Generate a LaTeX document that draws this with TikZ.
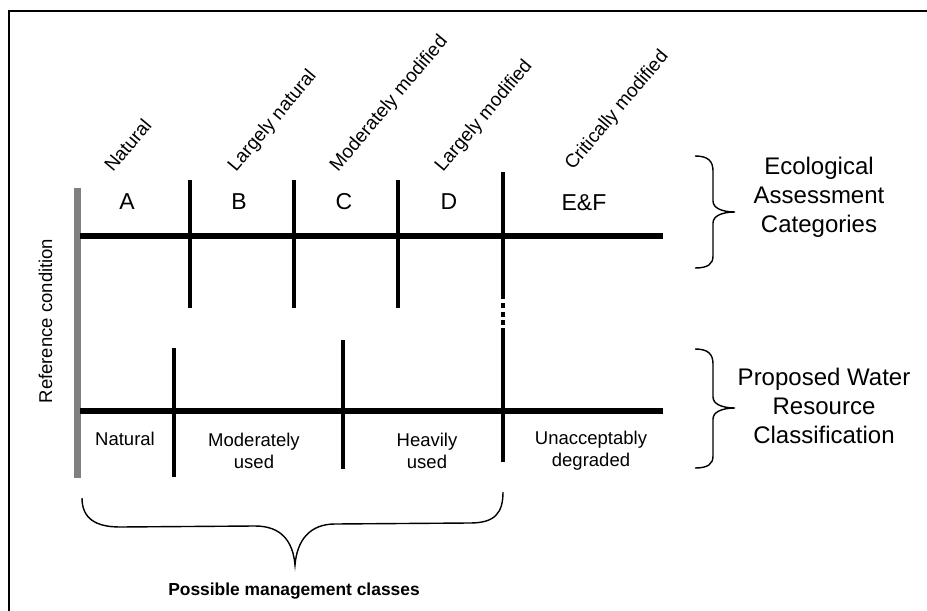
\documentclass[tikz,border=0pt]{standalone}
\usepackage{fontspec}
\setmainfont{Liberation Sans}
\begin{document}
\begin{tikzpicture}[x=1bp,y=-1bp,
  thickbar/.style={line width=6.5bp},
  divider/.style={line width=4bp},
  bracestroke/.style={line width=1.4bp},
  cat/.style={inner sep=0pt, font=\fontsize{23bp}{25bp}\selectfont},
  rotlab/.style={inner sep=0pt, rotate=50, anchor=base west, font=\fontsize{19bp}{21bp}\selectfont},
  usage/.style={inner sep=0pt, align=center, font=\fontsize{18.5bp}{22bp}\selectfont},
  sidelab/.style={inner sep=0pt, align=center, font=\fontsize{24bp}{29bp}\selectfont}
]
\useasboundingbox (0,0) rectangle (927,611);
% frame (top and left edges visible)
\draw[line width=2bp] (9,620) -- (9,11) -- (935,11);

% coordinates
\coordinate (gt) at (77,188); \coordinate (gb) at (77,478);
\coordinate (h1a) at (80,236); \coordinate (h1b) at (663,236);
\coordinate (h2a) at (80,411); \coordinate (h2b) at (663,411);
\coordinate (v1t) at (190,180); \coordinate (v1b) at (190,308);
\coordinate (v2t) at (294,180); \coordinate (v2b) at (294,308);
\coordinate (v3t) at (398,180); \coordinate (v3b) at (398,308);
\coordinate (v4t) at (503,172); \coordinate (v4m) at (503,299);
\coordinate (d1a) at (503,303); \coordinate (d1b) at (503,308);
\coordinate (d2a) at (503,312); \coordinate (d2b) at (503,317);
\coordinate (d3a) at (503,320); \coordinate (d3b) at (503,325);
\coordinate (v4n) at (503,328); \coordinate (v4b) at (503,462);
\coordinate (w1t) at (174,348); \coordinate (w1b) at (174,477);
\coordinate (w2t) at (343,340); \coordinate (w2b) at (343,469);

% reference condition bar
\draw[line width=7bp, color=black!50] (gt) -- (gb);
% horizontal bars
\draw[thickbar] (h1a) -- (h1b);
\draw[thickbar] (h2a) -- (h2b);
% dividers
\draw[divider] (v1t) -- (v1b);
\draw[divider] (v2t) -- (v2b);
\draw[divider] (v3t) -- (v3b);
\draw[line width=4.5bp] (v4t) -- (v4m);
\draw[line width=4.5bp] (d1a) -- (d1b);
\draw[line width=4.5bp] (d2a) -- (d2b);
\draw[line width=4.5bp] (d3a) -- (d3b);
\draw[line width=4.5bp] (v4n) -- (v4b);
\draw[divider] (w1t) -- (w1b);
\draw[divider] (w2t) -- (w2b);

% category letters
\node[cat] (cA) at (127,202) {A};
\node[cat] (cB) at (239,202) {B};
\node[cat] (cC) at (344,202) {C};
\node[cat] (cD) at (449,202) {D};
\node[cat] (cE) at (584,203) {E\&F};

% rotated labels
\node[rotlab] (rA) at (113,173) {Natural};
\node[rotlab] (rB) at (236,173) {Largely natural};
\node[rotlab] (rC) at (338,173) {Moderately modified};
\node[rotlab] (rD) at (443,173) {Largely modified};
\node[rotlab] (rE) at (573,171) {Critically modified};

% usage labels
\node[usage] (uN) at (125,439) {Natural};
\node[usage] (uM) at (254,451) {Moderately\\used};
\node[usage] (uH) at (427,451) {Heavily\\used};
\node[usage] (uU) at (591,451) {Unacceptably\\degraded};

% reference condition
\node[inner sep=0pt, rotate=90, font=\fontsize{18.5bp}{20bp}\selectfont] (ref) at (45.5,321) {Reference condition};

% right braces
\draw[bracestroke] (695,156) .. controls (708,156) and (713,161) .. (713,171) -- (713,201)
  .. controls (713,208) and (722,212) .. (735,212)
  .. controls (722,212) and (713,216) .. (713,223) -- (713,256)
  .. controls (713,264) and (708,268) .. (695,268);
\draw[bracestroke] (695,349) .. controls (708,349) and (713,354) .. (713,364) -- (713,397)
  .. controls (713,404) and (722,408) .. (735,408)
  .. controls (722,408) and (713,412) .. (713,419) -- (713,456)
  .. controls (713,464) and (708,468) .. (695,468);
\node[sidelab] (eco) at (819,197) {Ecological\\Assessment\\Categories};
\node[sidelab] (pwr) at (824,406) {Proposed Water\\Resource\\Classification};

% bottom brace
\draw[bracestroke] (82,498) .. controls (82,518) and (95,527) .. (120,527) -- (255,526)
  .. controls (282,526) and (293,542) .. (295,565)
  .. controls (297,540) and (310,524) .. (335,524) -- (470,523)
  .. controls (495,523) and (503,513) .. (503,492);
\node[inner sep=0pt, font=\bfseries\fontsize{17.4bp}{20bp}\selectfont] (pmc) at (294,591) {Possible management classes};
\end{tikzpicture}
\end{document}
